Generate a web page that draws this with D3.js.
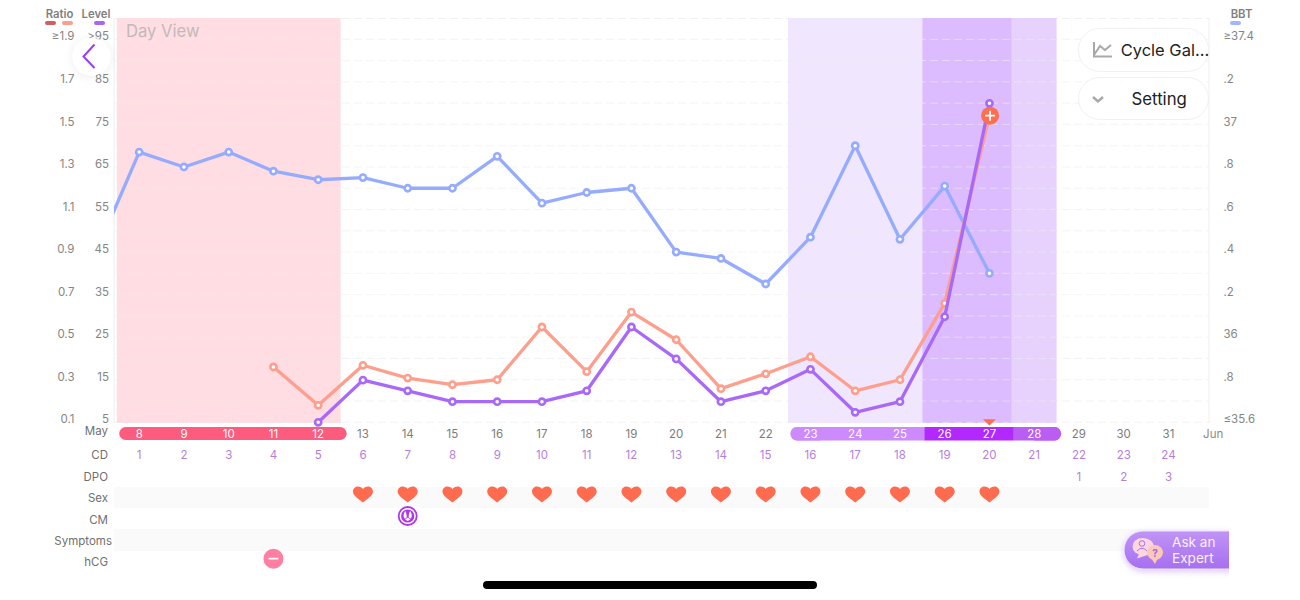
<!DOCTYPE html>
<html><head><meta charset="utf-8">
<script src="https://cdn.jsdelivr.net/npm/d3@7"></script>
<style>
html,body{margin:0;padding:0;background:#fff;overflow:hidden}
svg{display:block}
text{font-family:Inter,"Noto Sans",sans-serif}
</style></head><body>
<svg id="c" width="1300" height="600"></svg>
<script>
const dates=[8,9,10,11,12,13,14,15,16,17,18,19,20,21,22,23,24,25,26,27,28,29,30,31];
const cycleDays=[1,2,3,4,5,6,7,8,9,10,11,12,13,14,15,16,17,18,19,20,21,22,23,24];
const dpoDays=[29,30,31];
const dpoLabels=[1,2,3];
const bbtDays=[7,8,9,10,11,12,13,14,15,16,17,18,19,20,21,22,23,24,25,26,27];
const bbtValues=[36.38,36.87,36.80,36.87,36.78,36.74,36.75,36.70,36.70,36.85,36.63,36.68,36.70,36.40,36.37,36.25,36.47,36.90,36.46,36.71,36.30];
const ratioDays=[11,12,13,14,15,16,17,18,19,20,21,22,23,24,25,26,27];
const ratioValues=[0.36,0.18,0.368,0.308,0.277,0.30,0.548,0.338,0.618,0.488,0.258,0.328,0.408,0.248,0.30,0.659,1.541];
const levelDays=[12,13,14,15,16,17,18,19,20,21,22,23,24,25,26,27];
const levelValues=[5,14.9,12.4,9.84,9.84,9.84,12.4,27.4,19.9,9.84,12.4,17.45,7.35,9.84,29.8,79.96];
const sexDays=[13,14,15,16,17,18,19,20,21,22,23,24,25,26,27];
const cmDays=[14];
const hcgDays=[11];
const ratioTicks=[1.9,1.7,1.5,1.3,1.1,0.9,0.7,0.5,0.3,0.1];
const ratioTickLabels=["≥1.9","1.7","1.5","1.3","1.1","0.9","0.7","0.5","0.3","0.1"];
const levelTicks=[95,85,75,65,55,45,35,25,15,5];
const levelTickLabels=[">95","85","75","65","55","45","35","25","15","5"];
const bbtTicks=[37.4,37.2,37,36.8,36.6,36.4,36.2,36,35.8,35.6];
const bbtTickLabels=["≥37.4",".2","37",".8",".6",".4",".2","36",".8","≤35.6"];
const gridLevels=[95,90,85,80,75,70,65,60,55,50,45,40,35,30,25,20,15,10,5];
const bands=[[8,12,"#ffdde3"],[23,25,"#f0e6fe"],[26,27,"#dcbcfe"],[28,28,"#e6d2fc"]];
const rowLabels=[["May",431],["CD",455],["DPO",477],["Sex",498],["CM",519.5],["Symptoms",540.5],["hCG",561.5]];

const svg=d3.select("#c");
const defs=svg.append("defs");
const x=d3.scaleLinear().domain([8,32]).range([139.2,1213.2]);
const yL=d3.scaleLinear().domain([5,95]).range([422.3,39.3]);
const yR=d3.scaleLinear().domain([0.1,1.9]).range([422.3,39.3]);
const yB=d3.scaleLinear().domain([35.6,37.4]).range([422.3,39.3]);
const halfDay=(x(9)-x(8))/2;

const sh=defs.append("filter").attr("id","sh").attr("x","-40%").attr("y","-40%").attr("width","180%").attr("height","180%");
sh.append("feDropShadow").attr("dx",0).attr("dy",1).attr("stdDeviation",5).attr("flood-color","#000").attr("flood-opacity",0.08);
const gl=defs.append("filter").attr("id","glow").attr("x","-20%").attr("y","-30%").attr("width","140%").attr("height","170%");
gl.append("feDropShadow").attr("dx",0).attr("dy",2).attr("stdDeviation",3).attr("flood-color","#a672ee").attr("flood-opacity",0.4);
const gr=defs.append("linearGradient").attr("id","ask").attr("x1",0).attr("x2",0).attr("y1",0).attr("y2",1);
gr.append("stop").attr("offset",0).attr("stop-color","#c094f6");
gr.append("stop").attr("offset",1).attr("stop-color","#a66ff0");
defs.append("clipPath").attr("id","plot").append("rect").attr("x",114).attr("y",18).attr("width",1095).attr("height",412);
defs.append("clipPath").attr("id","askclip").append("rect").attr("x",1100).attr("y",520).attr("width",129).attr("height",60);

// row stripes
svg.selectAll(".stripe").data([[487,21],[529,22]]).join("rect")
 .attr("x",114).attr("width",1095).attr("y",d=>d[0]).attr("height",d=>d[1]).attr("fill","#fafafa");

// top dash sits under the bands
svg.append("line").attr("x1",114).attr("x2",1209).attr("y1",18.5).attr("y2",18.5).attr("stroke","#f0f0f0").attr("stroke-dasharray","8 4");

// bands
svg.selectAll(".band").data(bands).join("rect")
 .attr("x",d=>x(d[0])-halfDay).attr("width",d=>x(d[1])-x(d[0])+2*halfDay)
 .attr("y",18).attr("height",405).attr("fill",d=>d[2]);

// grid
svg.selectAll(".grid").data(gridLevels).join("line")
 .attr("x1",114).attr("x2",1209).attr("y1",d=>yL(d)).attr("y2",d=>yL(d))
 .attr("stroke","#ececec").attr("stroke-opacity",.6).attr("stroke-dasharray","8 4");
svg.selectAll(".vline").data([114,1209]).join("line")
 .attr("x1",d=>d).attr("x2",d=>d).attr("y1",18).attr("y2",423).attr("stroke","#efefef");

// axes
function yAxis(gen,xp,scale,ticks,labels){
 const g=svg.append("g").attr("transform",`translate(${xp},-3)`)
  .call(gen(scale).tickValues(ticks).tickSize(0).tickPadding(0)
   .tickFormat(d=>labels[ticks.indexOf(d)]));
 g.select(".domain").remove();
 g.selectAll("text").attr("font-size",11.5).attr("fill","#858585")
  .style("font-family",'Inter,"Noto Sans",sans-serif');
}
yAxis(d3.axisLeft,74.5,yR,ratioTicks,ratioTickLabels);
yAxis(d3.axisLeft,109,yL,levelTicks,levelTickLabels);
yAxis(d3.axisRight,1223.5,yB,bbtTicks,bbtTickLabels);

// legend
const legendText=[["Ratio",59.5],["Level",96],["BBT",1241.5]];
svg.selectAll(".lt").data(legendText).join("text").attr("x",d=>d[1]).attr("y",18)
 .attr("text-anchor","middle").attr("font-size",11.3).attr("font-weight",600).attr("fill","#7f7f7f").text(d=>d[0]);
const legendSw=[[45,"#d0605f"],[62,"#fe9e8c"],[94,"#a866f7"],[1230,"#a3b5fe"]];
svg.selectAll(".ls").data(legendSw).join("rect").attr("x",d=>d[0]).attr("y",21).attr("width",11).attr("height",4).attr("rx",2).attr("fill",d=>d[1]);

svg.append("text").attr("x",126).attr("y",37).attr("font-size",16.6).attr("fill","#c2b9bb").text("Day View");

// series
const plot=svg.append("g").attr("clip-path","url(#plot)");
function series(days,vals,scale,color){
 const pts=days.map((d,i)=>[x(d),scale(vals[i])]);
 const g=plot.append("g");
 g.append("path").attr("d",d3.line()(pts)).attr("fill","none").attr("stroke",color).attr("stroke-width",3.3).attr("stroke-linejoin","round");
 g.selectAll("circle").data(pts).join("circle").attr("cx",d=>d[0]).attr("cy",d=>d[1]).attr("r",3.1)
  .attr("fill","#fff").attr("stroke",color).attr("stroke-width",2.6);
}
series(bbtDays,bbtValues,yB,"#95acfe");
series(ratioDays,ratioValues,yR,"#fe9e8c");
series(levelDays,levelValues,yL,"#a869f9");

// plus marker on the peak
const peakX=x(27)+0.6, peakY=yR(ratioValues[ratioValues.length-1]);
svg.append("circle").attr("cx",peakX).attr("cy",peakY).attr("r",9).attr("fill","#fe6f4f");
svg.append("path").attr("d",`M${peakX-5},${peakY}H${peakX+5}M${peakX},${peakY-5}V${peakY+5}`).attr("stroke","#fff").attr("stroke-width",1.8);
svg.append("path").attr("d",d3.line()([[x(27)-6.5,419.3],[x(27)+6.5,419.3],[x(27),425.5]])).attr("fill","#fe6f4f");

// pills
svg.append("rect").attr("x",x(8)-20).attr("y",427).attr("width",x(12)+28.5-(x(8)-20)).attr("height",13).attr("rx",6.5).attr("fill","#fe5c7e");
defs.append("clipPath").attr("id","pp").append("rect").attr("x",x(23)-20).attr("y",427).attr("width",x(28)+27-(x(23)-20)).attr("height",13.5).attr("rx",6.5);
const pg=svg.append("g").attr("clip-path","url(#pp)");
const segs=[[23,25,"#cd8afd"],[26,27,"#b228fe"],[28,28,"#b95df3"]];
pg.selectAll("rect").data(segs).join("rect").attr("x",d=>x(d[0])-halfDay+2).attr("width",d=>x(d[1])-x(d[0])+2*halfDay)
 .attr("y",427).attr("height",14).attr("fill",d=>d[2]);
pg.selectAll(".e").data([[23,"#cd8afd"],[28,"#b95df3"]]).join("rect").attr("class","e")
 .attr("x",d=>d[0]===23?x(23)-20:x(28)).attr("width",30).attr("y",427).attr("height",14).attr("fill",d=>d[1]);

// date row
const inPill=d=>(d>=8&&d<=12)||(d>=23&&d<=28);
svg.selectAll(".dt").data(dates).join("text").attr("x",d=>x(d)).attr("y",438).attr("text-anchor","middle")
 .attr("font-size",11.5).attr("fill",d=>inPill(d)?"#fff":"#7c7c7c").text(d=>d);
svg.append("text").attr("x",x(32)).attr("y",438).attr("text-anchor","middle").attr("font-size",11.5).attr("fill","#8a8a8a").text("Jun");
svg.selectAll(".cd").data(cycleDays).join("text").attr("x",(d,i)=>x(dates[i])).attr("y",459).attr("text-anchor","middle")
 .attr("font-size",11.5).attr("fill","#b57ede").text(d=>d);
svg.selectAll(".dpo").data(dpoLabels).join("text").attr("x",(d,i)=>x(dpoDays[i])).attr("y",481).attr("text-anchor","middle")
 .attr("font-size",11.5).attr("fill","#b57ede").text(d=>d);
svg.selectAll(".rl").data(rowLabels).join("text").attr("x",d=>d[0]==="Symptoms"?112:108).attr("y",d=>d[1]+4).attr("text-anchor","end")
 .attr("font-size",11.5).attr("fill","#6f6f6f").text(d=>d[0]);

// hearts
const heart="M0,8C-3,5.5 -10,1.5 -10,-3C-10,-6 -7.5,-8 -5,-8C-3,-8 -1,-7 0,-5.5C1,-7 3,-8 5,-8C7.5,-8 10,-6 10,-3C10,1.5 3,5.5 0,8Z";
svg.selectAll(".h").data(sexDays).join("path").attr("d",heart).attr("fill","#fe6b4e")
 .attr("transform",d=>`translate(${x(d)},494.5)`);

// CM icon
cmDays.forEach(d=>{
 const g=svg.append("g").attr("transform",`translate(${x(d)},516)`);
 g.append("circle").attr("r",9).attr("fill","#fff").attr("stroke","#ad38ea").attr("stroke-width",1.8);
 g.append("circle").attr("r",6.6).attr("fill","#ad38ea");
 g.append("path").attr("d","M-2.4,-5C-4.6,-2 -4.4,1 -3.2,2.2C-2.2,3.2 -0.8,2 -1,0C-1.2,-2 -1.6,-4 -2.4,-5ZM2.4,-5C4.6,-2 4.4,1 3.2,2.2C2.2,3.2 0.8,2 1,0C1.2,-2 1.6,-4 2.4,-5Z").attr("fill","#fff");
 g.append("path").attr("d","M-2.6,3.4L0,1.4L2.6,3.4L0,5Z").attr("fill","#fff");
});
// hCG icon
hcgDays.forEach(d=>{
 const g=svg.append("g").attr("transform",`translate(${x(d)},558.7)`);
 g.append("circle").attr("r",10).attr("fill","#fe7fa2");
 g.append("rect").attr("x",-5).attr("y",-1).attr("width",10).attr("height",1.8).attr("rx",.9).attr("fill","#fff");
});

// back button
svg.append("circle").attr("cx",91.5).attr("cy",56.7).attr("r",19).attr("fill","#fff").attr("fill-opacity",.96).attr("filter","url(#sh)");
svg.append("path").attr("d","M94.5,44.5L83.5,56.5L94.5,68").attr("fill","none").attr("stroke","#9a3cf8").attr("stroke-width",2);

// buttons
const btns=[[28,43],[77,42]];
svg.selectAll(".b").data(btns).join("rect").attr("x",1078.5).attr("y",d=>d[0]+.5).attr("width",130).attr("height",d=>d[1])
 .attr("rx",21).attr("fill","#fff").attr("stroke","#f1f1f1");
svg.append("path").attr("d","M1094,42V56.5H1112M1094,55L1100,46L1105,50L1111,45").attr("fill","none").attr("stroke","#a8a8a8").attr("stroke-width",2);
svg.append("text").attr("x",1120.7).attr("y",56).attr("font-size",16.5).attr("fill","#222").text("Cycle Gal...");
svg.append("path").attr("d","M1093,97L1098,101.5L1103,97").attr("fill","none").attr("stroke","#a8a8a8").attr("stroke-width",2.4);
svg.append("text").attr("x",1131.5).attr("y",105).attr("font-size",16.8).attr("fill","#222").text("Setting");

// ask an expert
svg.append("g").attr("clip-path","url(#askclip)").append("path").attr("d","M1235,531H1143A19,19 0 0 0 1143,569H1235Z")
 .attr("fill","url(#ask)").attr("stroke","#efe4fc").attr("stroke-width",1).attr("filter","url(#glow)");
svg.append("path").attr("d","M1137,558.5L1139,554A9.5,8.5 0 1 1 1146,555.5Z").attr("fill","#fbd6de");
svg.append("ellipse").attr("cx",1142).attr("cy",546.5).attr("rx",9.5).attr("ry",8.5).attr("fill","#fbd6de");
svg.append("circle").attr("cx",1142).attr("cy",543.5).attr("r",2.8).attr("fill","none").attr("stroke","#a672ee").attr("stroke-width",1);
svg.append("path").attr("d","M1137,551Q1142,545.5 1147,551").attr("fill","none").attr("stroke","#a672ee").attr("stroke-width",1);
svg.append("path").attr("d","M1151,558L1155,564L1158,558Z").attr("fill","#fcc9b8");
svg.append("ellipse").attr("cx",1155).attr("cy",552.5).attr("rx",8).attr("ry",7.5).attr("fill","#fcc9b8");
svg.append("text").attr("x",1155).attr("y",556.5).attr("text-anchor","middle").attr("font-size",10).attr("font-weight",700).attr("fill","#a064e6").text("?");
svg.selectAll(".ae").data([["Ask an",547],["Expert",563]]).join("text").attr("x",1172).attr("y",d=>d[1])
 .attr("font-size",13.6).attr("fill","#fbeeff").text(d=>d[0]);

// home bar
svg.append("rect").attr("x",483).attr("y",581).attr("width",334).attr("height",8).attr("rx",4).attr("fill","#000");
</script>
</body></html>
